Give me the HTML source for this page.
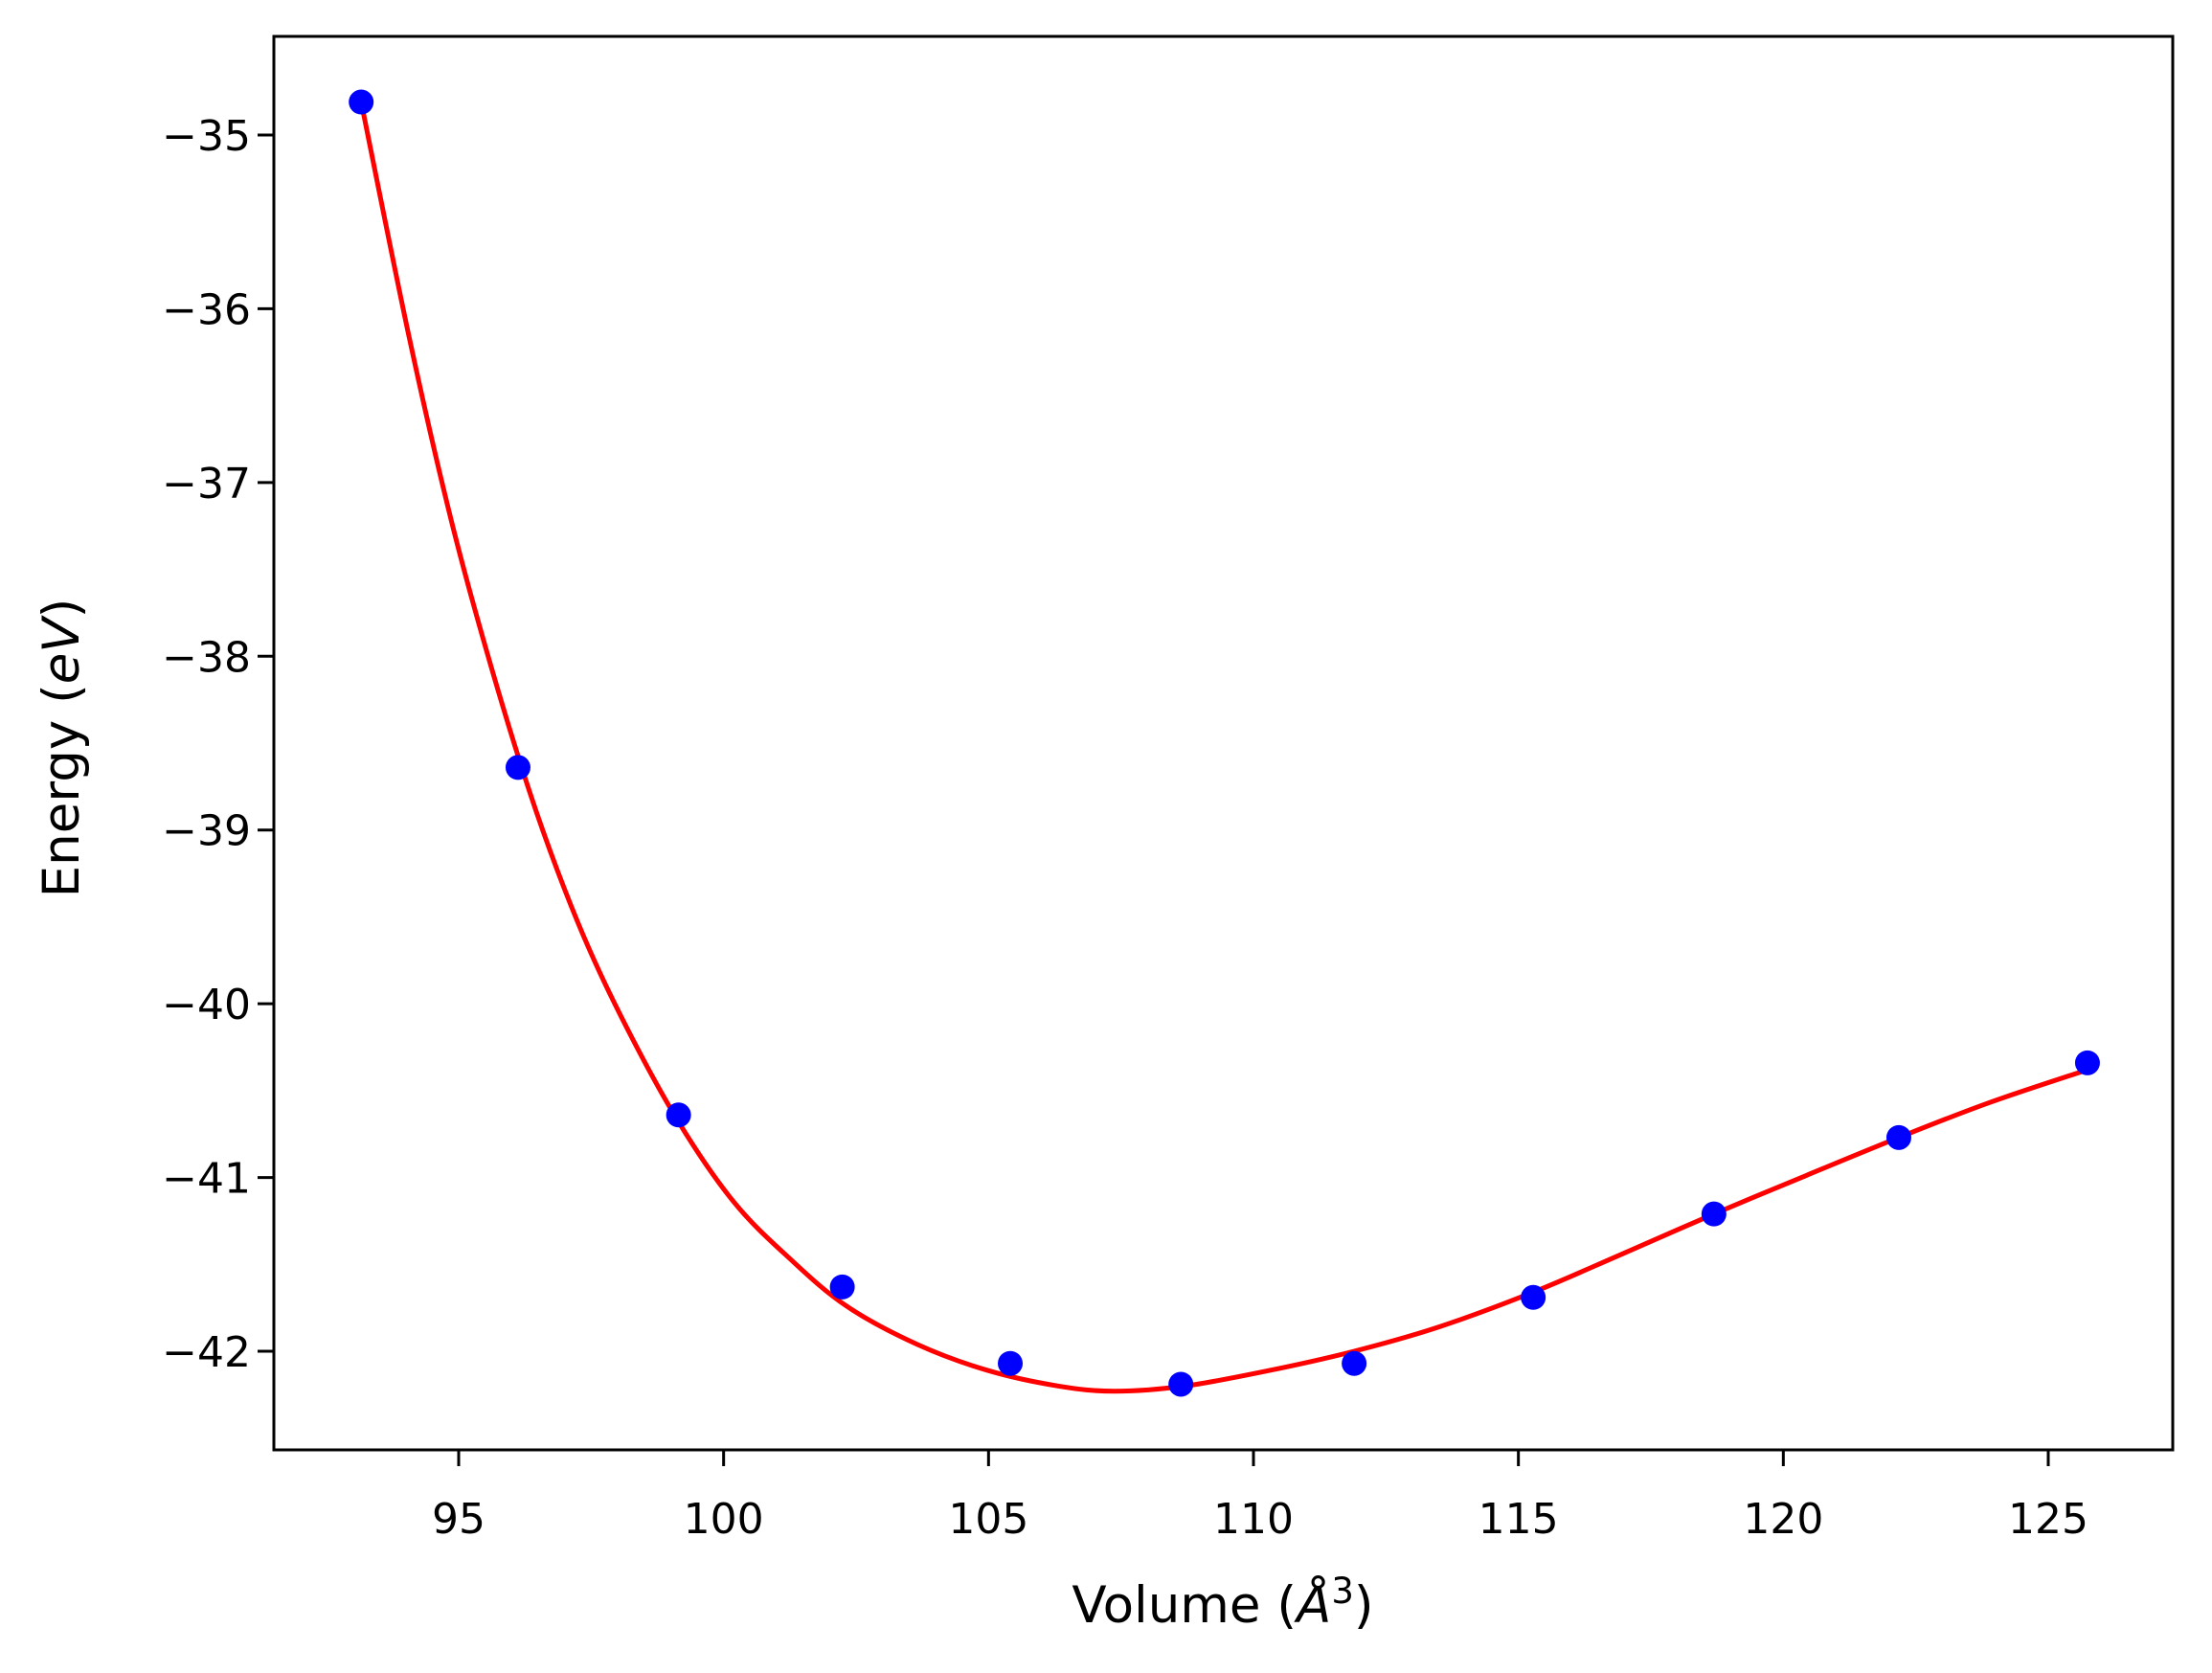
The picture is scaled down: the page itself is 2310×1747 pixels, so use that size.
<!DOCTYPE html>
<html><head><meta charset="utf-8"><style>
html,body{margin:0;padding:0;background:#fff;}
svg{display:block;font-family:"DejaVu Sans","Liberation Sans",sans-serif;}
</style></head><body>
<svg id="chart" width="2310" height="1747" viewBox="0 0 2310 1747" xmlns="http://www.w3.org/2000/svg">
<rect width="2310" height="1747" fill="#fff"/>
<g id="plot"></g>
<text x="1277" y="1694" font-size="53" text-anchor="middle">Volume (<tspan font-style="italic">Å</tspan><tspan font-size="37" dy="-20">3</tspan><tspan dy="20">)</tspan></text>
<text transform="translate(82,781) rotate(-90)" font-size="53" text-anchor="middle">Energy (<tspan font-style="italic">eV</tspan>)</text>
</svg>
<script>
const xTicks=[95,100,105,110,115,120,125];
const yTicks=[-35,-36,-37,-38,-39,-40,-41,-42];
const volumes=[93.16,96.12,99.15,102.24,105.41,108.63,111.90,115.28,118.69,122.18,125.74];
const energies=[-34.81,-38.64,-40.64,-41.63,-42.07,-42.19,-42.07,-41.69,-41.21,-40.77,-40.34];
const fitV=[93.16,94.07,94.87,95.67,96.46,97.26,98.06,99.13,100.19,101.26,102.32,103.65,104.98,106.31,107.38,108.71,110.31,111.90,113.50,115.28,116.96,118.69,120.42,122.18,123.88,125.74];
const fitE=[-34.81,-36.17,-37.23,-38.12,-38.89,-39.54,-40.07,-40.67,-41.14,-41.47,-41.74,-41.96,-42.11,-42.20,-42.23,-42.20,-42.11,-42.00,-41.86,-41.66,-41.44,-41.21,-40.99,-40.77,-40.57,-40.38];
const L=286,R=2269,T=38,B=1514;
const X=v=>479+(v-95)*(2139-479)/30;
const Y=e=>141+(-35-e)*(1411-141)/7;
const NS="http://www.w3.org/2000/svg";
const g=document.getElementById('plot');
function mk(t,a){const e=document.createElementNS(NS,t);for(const k in a)e.setAttribute(k,a[k]);g.appendChild(e);return e;}
// fit curve (catmull-rom)
const pts=fitV.map((v,i)=>[X(v),Y(fitE[i])]);
let d="M"+pts[0][0]+","+pts[0][1];
for(let i=0;i<pts.length-1;i++){
 const p0=pts[Math.max(0,i-1)],p1=pts[i],p2=pts[i+1],p3=pts[Math.min(pts.length-1,i+2)];
 d+=" C"+(p1[0]+(p2[0]-p0[0])/6)+","+(p1[1]+(p2[1]-p0[1])/6)+" "+(p2[0]-(p3[0]-p1[0])/6)+","+(p2[1]-(p3[1]-p1[1])/6)+" "+p2[0]+","+p2[1];
}
const line=mk('path',{d:d,fill:'none',stroke:'#ff0000','stroke-width':5});


volumes.forEach((v,i)=>{
 const c=mk('circle',{cx:X(v),cy:Y(energies[i]),r:13,fill:'#0000ff'});
 
 
});
const frame=mk('rect',{x:L,y:T,width:R-L,height:B-T,fill:'none',stroke:'#000','stroke-width':3});


xTicks.forEach(t=>{
 const x=X(t);
 const tk=mk('line',{x1:x,x2:x,y1:B,y2:B+17,stroke:'#000','stroke-width':3});
 
 
 const tx=mk('text',{x:x,y:1601,'font-size':44,'text-anchor':'middle'});
 tx.textContent=t;
 
 
});
yTicks.forEach(t=>{
 const y=Y(t);
 const tk=mk('line',{x1:L-17,x2:L,y1:y,y2:y,stroke:'#000','stroke-width':3});
 
 
 const tx=mk('text',{x:262,y:y+16,'font-size':44,'text-anchor':'end'});
 tx.textContent='\u2212'+Math.abs(t);
 
 
});
</script>
</body></html>
